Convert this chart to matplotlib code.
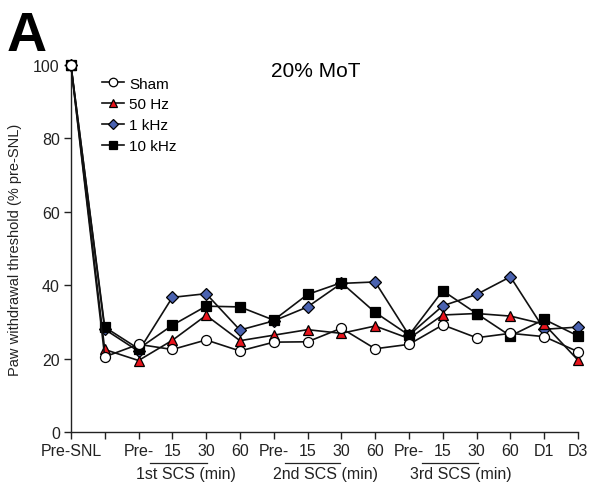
import matplotlib
matplotlib.use("Agg")
import matplotlib.pyplot as plt
import matplotlib.transforms as mtransforms

plt.rcParams['font.family'] = ['Liberation Sans', 'DejaVu Sans']

tick_labels = ["Pre-SNL", "", "Pre-", "15", "30", "60", "Pre-", "15", "30", "60",
               "Pre-", "15", "30", "60", "D1", "D3"]
sham = [100, 20.5, 23.9, 22.5, 25.1, 22.1, 24.5, 24.6, 28.3, 22.7, 23.9, 29.2, 25.7, 26.9, 26.0, 21.9]
hz50 = [100, 22.5, 19.5, 25.0, 31.8, 24.9, 26.4, 27.9, 26.9, 28.9, 25.5, 31.9, 32.3, 31.6, 29.4, 19.6]
khz1 = [100, 28.0, 22.0, 36.7, 37.7, 27.8, 30.3, 34.1, 40.5, 40.9, 26.4, 34.4, 37.5, 42.3, 28.0, 28.6]
khz10 = [100, 28.6, 22.7, 29.1, 34.3, 34.1, 30.5, 37.5, 40.7, 32.6, 26.4, 38.5, 32.3, 26.2, 30.7, 26.2]
groups = ["1st SCS (min)", "2nd SCS (min)", "3rd SCS (min)"]

fig = plt.figure(figsize=(5.91, 4.85), dpi=100)
ax = fig.add_axes([0.120, 0.107, 0.858, 0.757])
x = list(range(len(tick_labels)))

common = dict(color='#111111', lw=1.2, markeredgecolor='black',
              markeredgewidth=0.9, clip_on=False)
ax.plot(x, khz1, marker='D', markerfacecolor='#4a62b0', markersize=6.4, zorder=3,
        label='1 kHz', **common)
ax.plot(x, hz50, marker='^', markerfacecolor='#e8141c', markersize=7.2, zorder=4,
        label='50 Hz', **common)
ax.plot(x, khz10, marker='s', markerfacecolor='black', markersize=6.6, zorder=5,
        label='10 kHz', **common)
ax.plot(x, sham, marker='o', markerfacecolor='white', markersize=7.2, zorder=6,
        label='Sham', **common)

ax.set_xlim(0, 15)
ax.set_ylim(0, 100)
ax.set_yticks([0, 20, 40, 60, 80, 100])
ax.set_xticks(x)
ax.set_xticklabels(tick_labels)
for s in ['top', 'right']:
    ax.spines[s].set_visible(False)
for s in ['left', 'bottom']:
    ax.spines[s].set_linewidth(1.0)
    ax.spines[s].set_color('#222222')
ax.tick_params(axis='both', direction='out', length=5, width=1.0, labelsize=11.5,
               colors='#222222', pad=3)
ax.set_ylabel("Paw withdrawal threshold (% pre-SNL)", fontsize=10.5, labelpad=8,
              color='#222222')

handles, labels = ax.get_legend_handles_labels()
order = [labels.index(l) for l in ['Sham', '50 Hz', '1 kHz', '10 kHz']]
leg = ax.legend([handles[i] for i in order], [labels[i] for i in order],
                loc='upper left', bbox_to_anchor=(0.05, 0.985), frameon=False,
                fontsize=11, handlelength=1.4, handletextpad=0.35, labelspacing=0.45,
                borderaxespad=0, markerscale=0.85)

ax.text(0.483, 0.984, "20% MoT", transform=ax.transAxes, ha='center', va='center',
        fontsize=15)
fig.text(0.012, 0.978, "A", fontsize=40, fontweight='bold', ha='left', va='top')

trans = mtransforms.blended_transform_factory(ax.transData, ax.transAxes)
ul = [(2.34, 4.02), (6.33, 7.96), (10.38, 12.04)]
tc = [3.4, 7.54, 11.54]
for (a, b), c, g in zip(ul, tc, groups):
    ax.plot([a, b], [-0.0845, -0.0845], transform=trans, color='#222222', lw=0.9,
            clip_on=False)
    ax.text(c, -0.112, g, transform=trans, ha='center', va='center', fontsize=11.5,
            color='#222222')

fig.savefig("out.png", dpi=100)
